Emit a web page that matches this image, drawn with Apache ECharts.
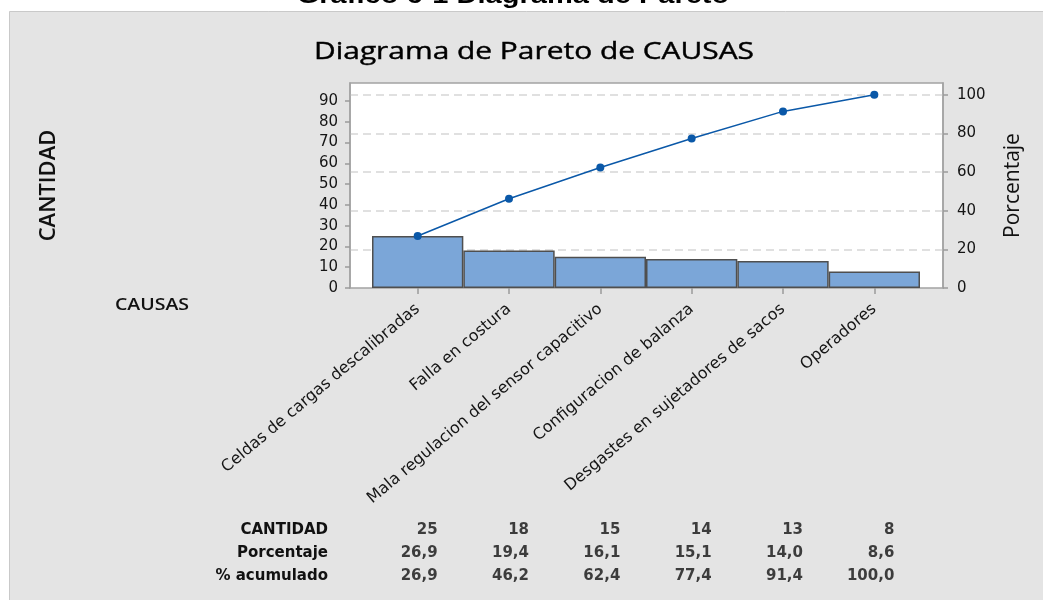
<!DOCTYPE html>
<html><head><meta charset="utf-8">
<script src="https://cdn.jsdelivr.net/npm/echarts@6/dist/echarts.min.js"></script>
<style>html,body{margin:0;padding:0;background:#fff}#c{width:1043px;height:600px}</style>
</head><body><div id="c"></div>
<script>
const categories = ['Celdas de cargas descalibradas','Falla en costura','Mala regulacion del sensor capacitivo','Configuracion de balanza','Desgastes en sujetadores de sacos','Operadores'];
const cantidad = [25, 18, 15, 14, 13, 8];
const porcentaje = [26.9, 19.4, 16.1, 15.1, 14.0, 8.6];
const acumulado = [26.9, 46.2, 62.4, 77.4, 91.4, 100.0];
const rowLabels = ['CANTIDAD', 'Porcentaje', '% acumulado'];
const leftTicks = [0, 10, 20, 30, 40, 50, 60, 70, 80, 90];
const rightTicks = [0, 20, 40, 60, 80, 100];
const totalCantidad = 93;
const rightMax = 106.1;
const leftMax = totalCantidad * rightMax / 100;

const FONT = 'DejaVu Sans';
const fmt1 = v => v.toFixed(1).replace('.', ',');
const tableData = [];
categories.forEach((c, i) => {
  tableData.push([i, rowLabels[0], String(cantidad[i])]);
  tableData.push([i, rowLabels[1], fmt1(porcentaje[i])]);
  tableData.push([i, rowLabels[2], fmt1(acumulado[i])]);
});

const chart = echarts.init(document.getElementById('c'), null, {renderer: 'canvas'});
chart.setOption({
  backgroundColor: '#ffffff',
  animation: false,
  textStyle: {fontFamily: FONT},
  graphic: [
    {type: 'rect', z: -10, shape: {x: 9.5, y: 11.5, width: 1040, height: 600}, style: {fill: '#e4e4e4', stroke: '#c9c9c9', lineWidth: 1}},
    {type: 'text', z: 5, x: 513, y: 8, scaleX: 1.21, style: {text: 'Gráfico 6-1 Diagrama de Pareto', font: 'bold 24px "Liberation Sans", Arial', fill: '#000', textAlign: 'center', textVerticalAlign: 'bottom'}},
    {type: 'text', z: 5, x: 534, y: 52, scaleX: 1.3, style: {text: 'Diagrama de Pareto de CAUSAS', font: '23px "Open Sans"', fill: '#000', stroke: '#000', lineWidth: 0.4, textAlign: 'center', textVerticalAlign: 'middle'}},
    {type: 'text', z: 5, x: 152, y: 305, scaleX: 1.22, style: {text: 'CAUSAS', font: '600 16px "Open Sans"', fill: '#111', textAlign: 'center', textVerticalAlign: 'middle'}}
  ],
  grid: [
    {left: 350, top: 83, width: 593, height: 205, show: true, backgroundColor: '#ffffff', borderColor: '#a3a3a3', borderWidth: 1.5},
    {left: 372, top: 83, width: 548, height: 205},
    {left: 372, top: 518, width: 548, height: 70}
  ],
  xAxis: [
    {gridIndex: 0, type: 'value', min: 0, max: 1, show: false},
    {gridIndex: 1, type: 'category', data: categories, boundaryGap: true,
      axisLine: {show: false},
      axisTick: {show: true, alignWithLabel: true, length: 6, lineStyle: {color: '#9a9a9a', width: 1.5}},
      axisLabel: {rotate: 40, margin: 19, fontSize: 16, color: '#151515', fontFamily: FONT, interval: 0}},
    {gridIndex: 2, type: 'category', data: categories, show: false}
  ],
  yAxis: [
    {gridIndex: 0, type: 'value', min: 0, max: rightMax,
      axisLine: {show: false}, axisTick: {show: false, customValues: rightTicks}, axisLabel: {show: false, customValues: rightTicks},
      splitLine: {show: true, showMinLine: false, showMaxLine: true, lineStyle: {color: '#d6d6d6', type: [8, 5], width: 1.5}}},
    {gridIndex: 1, type: 'value', position: 'left', offset: 22, min: 0, max: leftMax,
      axisLine: {show: true, lineStyle: {color: '#a3a3a3', width: 1.5}},
      axisTick: {show: true, length: 5, customValues: leftTicks, lineStyle: {color: '#9a9a9a', width: 1.5}},
      axisLabel: {customValues: leftTicks, margin: 12, fontSize: 15, color: '#151515', fontFamily: FONT},
      splitLine: {show: false},
      name: 'CANTIDAD', nameLocation: 'middle', nameGap: 290, nameRotate: 90,
      nameTextStyle: {fontSize: 22, color: '#111', fontFamily: 'Open Sans', fontWeight: 600}},
    {gridIndex: 1, type: 'value', position: 'right', offset: 23, min: 0, max: rightMax,
      axisLine: {show: true, lineStyle: {color: '#a3a3a3', width: 1.5}},
      axisTick: {show: true, length: 5, customValues: rightTicks, lineStyle: {color: '#9a9a9a', width: 1.5}},
      axisLabel: {customValues: rightTicks, margin: 14, fontSize: 15, color: '#151515', fontFamily: FONT},
      splitLine: {show: false},
      name: 'Porcentaje', nameLocation: 'middle', nameGap: 60, nameRotate: 90,
      nameTextStyle: {fontSize: 21, color: '#111', fontFamily: 'Open Sans'}},
    {gridIndex: 2, type: 'category', data: rowLabels, inverse: true,
      axisLine: {show: false}, axisTick: {show: false},
      axisLabel: {margin: 44, fontSize: 15, fontWeight: 'bold', color: '#111', fontFamily: FONT}}
  ],
  series: [
    {type: 'bar', xAxisIndex: 1, yAxisIndex: 1, data: cantidad, barWidth: '100%', barCategoryGap: '0%',
      itemStyle: {color: '#7ba6d8', borderColor: '#4f4f4f', borderWidth: 1.5}, z: 2},
    {type: 'line', xAxisIndex: 1, yAxisIndex: 2, data: acumulado, symbol: 'circle', symbolSize: 8,
      lineStyle: {color: '#0a58a8', width: 1.5}, itemStyle: {color: '#0a58a8'}, z: 5},
    {type: 'scatter', xAxisIndex: 2, yAxisIndex: 3, data: tableData, symbolSize: 1,
      itemStyle: {color: 'rgba(0,0,0,0)'},
      label: {show: true, position: 'inside', align: 'right', verticalAlign: 'middle', offset: [20, 0],
        formatter: p => p.value[2], fontSize: 15, fontWeight: 'bold', color: '#111', fontFamily: FONT}}
  ]
});
</script></body></html>
